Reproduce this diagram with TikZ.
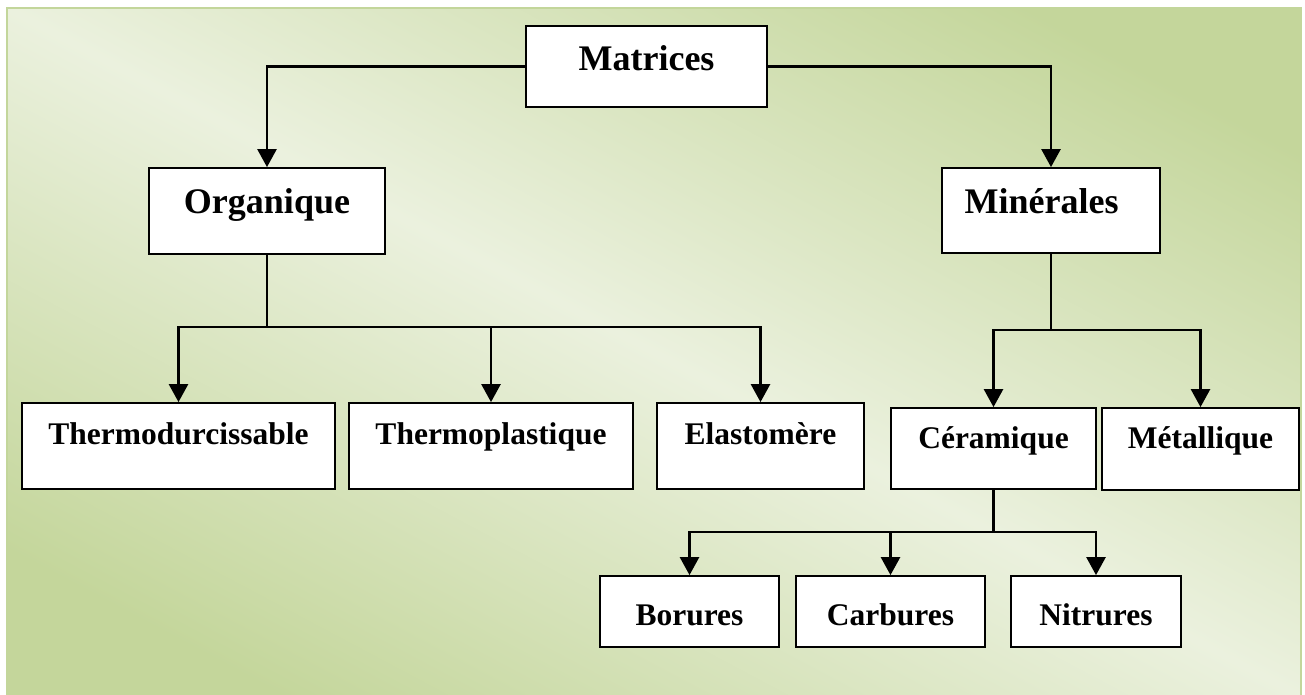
\documentclass[tikz,border=0pt]{standalone}
\usepackage{fontspec}
\setmainfont{Liberation Serif}
\usetikzlibrary{arrows.meta}
\definecolor{bgdark}{RGB}{196,214,155}
\definecolor{bglight}{RGB}{235,241,222}
\definecolor{bgborder}{RGB}{195,214,155}
\pgfdeclareverticalshading{bgshade}{100bp}{color(0bp)=(bgdark); color(34bp)=(bgdark); color(50bp)=(bglight); color(66bp)=(bgdark); color(100bp)=(bgdark)}
\begin{document}
\begin{tikzpicture}[x=1pt,y=-1pt,
 box/.style={draw=black, line width=1.8pt, fill=white, inner sep=0pt, anchor=base},
 big/.style={box, font=\fontsize{36}{40}\selectfont\bfseries},
 small/.style={box, font=\fontsize{31.5}{36}\selectfont\bfseries},
 conn/.style={line width=2.6pt, draw=black},
 arr/.style={conn, -{Triangle[width=19pt 0, length=18pt 0]}}
]
\useasboundingbox (0,0) rectangle (1305,695);
\begin{scope}
\clip (7,8) rectangle (1301,700);
\shade[shading=bgshade, shading angle=-28] (-96,-398) rectangle (1404,1102);
\end{scope}
\draw[bgborder, line width=2pt] (7,8) rectangle (1301,700);

% junction points
\coordinate (oj) at (267,327);
\coordinate (mj) at (1051,330);
\coordinate (cj) at (993.5,532);

% nodes
\node[big, minimum width=241pt, text height=45pt, text depth=36pt] (mat) at (646.5,71) {Matrices};
\node[big, minimum width=236pt, text height=45pt, text depth=41pt] (org) at (267,213) {Organique};
\node[big, minimum width=218pt, text height=45pt, text depth=40pt] (min) at (1051,213) {Minérales\kern19pt};

\node[small, minimum width=313pt, text height=41pt, text depth=45pt] (thd) at (178.5,444) {Thermodurcissable};
\node[small, minimum width=284pt, text height=41pt, text depth=45pt] (thp) at (491,444) {Thermoplastique};
\node[small, minimum width=207pt, text height=41pt, text depth=45pt] (ela) at (760.5,444) {Elastomère};
\node[small, minimum width=205pt, text height=40pt, text depth=41pt] (cer) at (993.5,448) {Céramique};
\node[small, minimum width=197pt, text height=40pt, text depth=42pt] (met) at (1200.5,448) {Métallique};

\node[small, minimum width=179pt, text height=49pt, text depth=22pt] (bor) at (689.5,625) {Borures};
\node[small, minimum width=189pt, text height=49pt, text depth=22pt] (car) at (890.5,625) {Carbures};
\node[small, minimum width=170pt, text height=49pt, text depth=22pt] (nit) at (1096,625) {Nitrures};

% connectors
\draw[arr] (mat.west) -| (org.north);
\draw[arr] (mat.east) -| (min.north);

\draw[conn] (org.south) -- (oj);
\draw[arr] (oj) -| (thd.north);
\draw[arr] (oj) -| (thp.north);
\draw[arr] (oj) -| (ela.north);

\draw[conn] (min.south) -- (mj);
\draw[arr] (mj) -| (cer.north);
\draw[arr] (mj) -| (met.north);

\draw[conn] (cer.south) -- (cj);
\draw[arr] (cj) -| (bor.north);
\draw[arr] (cj) -| (car.north);
\draw[arr] (cj) -| (nit.north);
\end{tikzpicture}
\end{document}
